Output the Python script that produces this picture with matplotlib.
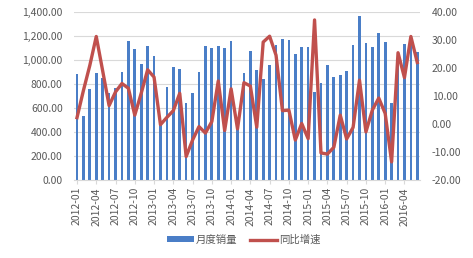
import matplotlib
matplotlib.use('Agg')
import matplotlib.pyplot as plt
from matplotlib.ticker import FuncFormatter

plt.rcParams['font.family'] = ['Noto Sans CJK SC', 'DejaVu Sans']

# monthly data 2012-01 .. 2016-06
months = ['%d-%02d' % (2012 + i // 12, i % 12 + 1) for i in range(54)]

sales = [881, 536, 756, 892, 850, 728, 769, 903, 1161, 1092, 964, 1119,
         1031, 470, 778, 944, 928, 644, 725, 897, 1119, 1103, 1119, 1103,
         1161, 440, 894, 1078, 919, 839, 961, 1128, 1178, 1169, 1053, 1111,
         1106, 736, 806, 958, 856, 872, 908, 1125, 1369, 1139, 1111, 1222,
         1147, 639, 1069, 1131, 1160, 1069]

growth = [2.3, 12.0, 21.0, 31.3, 19.0, 6.6, 11.5, 14.5, 12.8, 3.2, 11.0, 19.4,
          16.8, -0.2, 2.4, 4.8, 11.0, -11.6, -5.7, -0.9, -3.2, 0.9, 15.4, -2.3,
          12.6, -1.7, 14.8, 13.6, -1.1, 29.3, 31.4, 24.6, 4.8, 5.0, -5.7, 0.2,
          -5.2, 37.2, -10.3, -10.7, -8.3, 3.2, -5.3, -1.2, 15.7, -2.8, 5.0, 9.3,
          3.8, -13.5, 25.5, 16.6, 31.3, 22.0]

x = list(range(len(months)))

fig = plt.figure(figsize=(4.73, 2.58), dpi=100)
ax = fig.add_axes([0.156, 0.302, 0.733, 0.651])
ax2 = ax.twinx()

ax.bar(x, sales, width=0.42, color='#4A7EC7', label='月度销量', zorder=2)
ax2.plot(x, growth, color='#C0504D', linewidth=2.4, label='同比增速', zorder=3)

ax.set_xlim(-0.5, len(months) - 0.5)
ax.set_ylim(0, 1400)
ax.set_yticks(range(0, 1401, 200))
ax.yaxis.set_major_formatter(FuncFormatter(lambda v, p: '{:,.2f}'.format(v)))
ax2.set_ylim(-20, 40)
ax2.set_yticks(range(-20, 41, 10))
ax2.yaxis.set_major_formatter(FuncFormatter(lambda v, p: '{:.2f}'.format(v)))

ax.grid(axis='y', color='#D9D9D9', linewidth=0.8, zorder=0)
ax.set_axisbelow(True)

ax.set_xticks(x[::3])
ax.set_xticklabels(months[::3], rotation=90)

for a in (ax, ax2):
    for s in a.spines.values():
        s.set_visible(False)
    a.tick_params(axis='y', length=0, labelsize=7.5, labelcolor='#595959')
ax.spines['bottom'].set_visible(True)
ax.spines['bottom'].set_color('#D9D9D9')
ax.tick_params(axis='x', length=3, color='#D9D9D9', labelsize=7.5,
               labelcolor='#595959', pad=2)
ax.tick_params(axis='y', pad=8)
ax2.tick_params(axis='y', pad=8)

h1, l1 = ax.get_legend_handles_labels()
h2, l2 = ax2.get_legend_handles_labels()
fig.legend(h1 + h2, l1 + l2, loc='center', bbox_to_anchor=(0.515, 0.07),
           ncol=2, frameon=False, fontsize=7.5, labelcolor='#595959',
           handlelength=2.6, handleheight=0.5, columnspacing=1.2,
           handletextpad=0.2)

fig.savefig('out.png', dpi=100)
